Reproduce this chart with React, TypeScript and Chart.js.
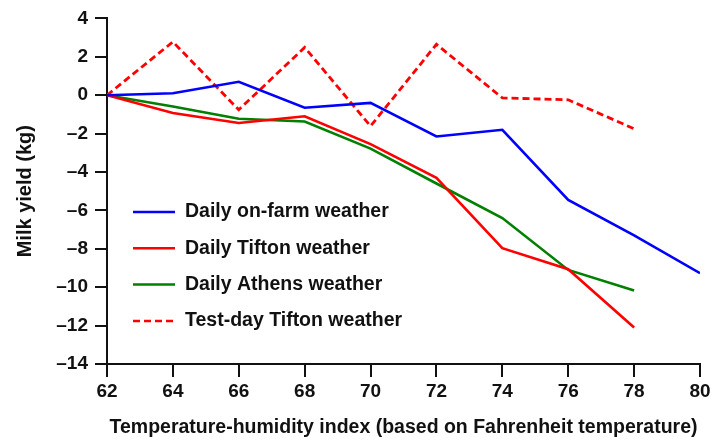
import React, { useEffect, useRef } from "react";
import { Chart, registerables } from "chart.js";

Chart.register(...registerables);

const thi = [62, 64, 66, 68, 70, 72, 74, 76, 78, 80];
const onFarm = [0, 0.1, 0.7, -0.65, -0.4, -2.15, -1.8, -5.45, -7.3, -9.27];
const tifton = [0, -0.93, -1.45, -1.1, -2.55, -4.3, -7.97, -9.06, -12.1];
const athens = [0, -0.59, -1.23, -1.37, -2.78, -4.6, -6.4, -9.1, -10.17];
const testDay = [0, 2.78, -0.76, 2.49, -1.61, 2.65, -0.14, -0.24, -1.75];

const seriesLabels = [
  "Daily on-farm weather",
  "Daily Tifton weather",
  "Daily Athens weather",
  "Test-day Tifton weather",
];

const xTitle = "Temperature-humidity index (based on Fahrenheit temperature)";
const yTitle = "Milk yield (kg)";

const FONT = "'Liberation Sans', Arial, Helvetica, sans-serif";

const toPoints = (vals: number[]) => vals.map((y, i) => ({ x: thi[i], y }));

const fmt = (v: number) => (v < 0 ? "\u2013" + Math.abs(v) : String(v));

const legendPlugin = {
  id: "insideLegend",
  afterDraw(chart: any) {
    const ctx = chart.ctx;
    ctx.save();
    const x0 = 133;
    const x1 = 175;
    const tx = 185;
    const y0 = 212;
    const dy = 36.3;
    chart.data.datasets.forEach((ds: any, i: number) => {
      const y = y0 + i * dy;
      ctx.beginPath();
      ctx.strokeStyle = ds.borderColor;
      ctx.lineWidth = 2.5;
      ctx.setLineDash(ds.borderDash || []);
      ctx.moveTo(x0, y);
      ctx.lineTo(x1, y);
      ctx.stroke();
      ctx.setLineDash([]);
      ctx.fillStyle = "#111";
      ctx.font = `bold 19.5px ${FONT}`;
      ctx.textBaseline = "middle";
      ctx.textAlign = "left";
      ctx.fillText(ds.label, tx, y);
    });
    ctx.restore();
  },
};

export default function App() {
  const ref = useRef<HTMLCanvasElement | null>(null);

  useEffect(() => {
    document.body.style.margin = "0";
    const canvas = ref.current!;
    const chart = new Chart(canvas, {
      type: "line",
      data: {
        datasets: [
          {
            label: seriesLabels[0],
            data: toPoints(onFarm),
            borderColor: "#0000ff",
            borderWidth: 2.6,
            pointRadius: 0,
            tension: 0,
          },
          {
            label: seriesLabels[1],
            data: toPoints(tifton),
            borderColor: "#ff0000",
            borderWidth: 2.6,
            pointRadius: 0,
            tension: 0,
          },
          {
            label: seriesLabels[2],
            data: toPoints(athens),
            borderColor: "#008000",
            borderWidth: 2.6,
            pointRadius: 0,
            tension: 0,
          },
          {
            label: seriesLabels[3],
            data: toPoints(testDay),
            borderColor: "#ff0000",
            borderWidth: 2.8,
            borderDash: [7, 4],
            pointRadius: 0,
            tension: 0,
          },
        ],
      },
      options: {
        responsive: false,
        animation: false,
        layout: { padding: { top: 16.5, right: 12, left: 0, bottom: 0 } },
        plugins: {
          legend: { display: false },
          tooltip: { enabled: false },
        },
        scales: {
          x: {
            type: "linear",
            min: 62,
            max: 80,
            afterFit: (s: any) => {
              s.height = 77;
              s.paddingRight = 10;
            },
            ticks: {
              stepSize: 2,
              padding: 3,
              color: "#111",
              font: { family: FONT, size: 19, weight: "bold" },
              callback: (v: any) => fmt(Number(v)),
            },
            grid: {
              display: true,
              drawOnChartArea: false,
              drawTicks: true,
              tickLength: 13,
              color: "#111",
              lineWidth: 2,
            },
            border: { display: true, color: "#111", width: 2 },
            title: {
              display: true,
              text: xTitle,
              color: "#111",
              font: { family: FONT, size: 19.5, weight: "bold" },
              padding: { top: 0, bottom: 1.5 },
            },
          },
          y: {
            min: -14,
            max: 4,
            afterFit: (s: any) => {
              s.width = 107;
            },
            ticks: {
              stepSize: 2,
              padding: 7,
              color: "#111",
              font: { family: FONT, size: 19, weight: "bold" },
              callback: (v: any) => fmt(Number(v)),
            },
            grid: {
              display: true,
              drawOnChartArea: false,
              drawTicks: true,
              tickLength: 12,
              color: "#111",
              lineWidth: 2,
            },
            border: { display: true, color: "#111", width: 2 },
            title: {
              display: true,
              text: yTitle,
              color: "#111",
              font: { family: FONT, size: 20, weight: "bold" },
              padding: { top: 13, bottom: 0 },
            },
          },
        },
      },
      plugins: [legendPlugin],
    } as any);
    return () => chart.destroy();
  }, []);

  return (
    <div style={{ position: "absolute", left: 0, top: 0, width: 712, height: 441 }}>
      <canvas ref={ref} width={712} height={441} />
    </div>
  );
}
